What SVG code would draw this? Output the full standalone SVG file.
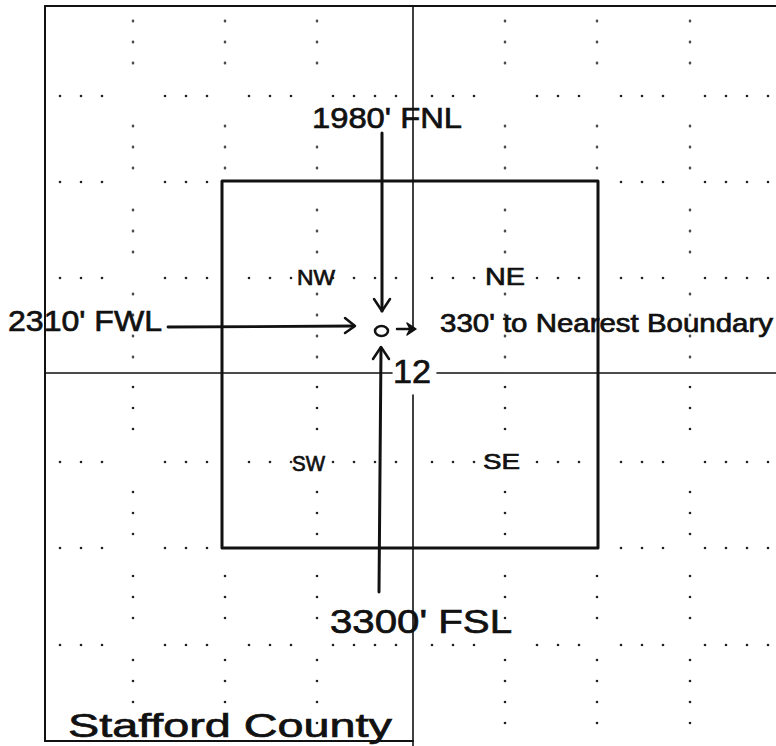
<svg xmlns="http://www.w3.org/2000/svg" width="776" height="746" viewBox="0 0 776 746">
<style>
.ln{stroke:#111;fill:none;stroke-linecap:round;stroke-linejoin:round}
.hw{font-family:"Liberation Sans","DejaVu Sans",sans-serif;fill:#111;stroke:#111;stroke-width:0.7}
</style>
<defs>
<pattern id="hL" patternUnits="userSpaceOnUse" width="21" height="6"><circle cx="18" cy="3" r="1.3" fill="#222"/></pattern>
<pattern id="hR" patternUnits="userSpaceOnUse" width="21" height="6"><circle cx="12" cy="3" r="1.3" fill="#222"/></pattern>
<pattern id="vT" patternUnits="userSpaceOnUse" x="0" y="-10.5" width="6" height="21"><circle cx="3" cy="10.5" r="1.3" fill="#222"/></pattern>
<pattern id="vB" patternUnits="userSpaceOnUse" width="6" height="21"><circle cx="3" cy="9" r="1.3" fill="#222"/></pattern>
</defs>
<rect width="776" height="746" fill="#fff"/>
<g id="dot-grid">
<g id="row-96" transform="translate(0,93)"><rect x="50" width="62" height="6" fill="url(#hL)"/><rect x="155" width="60" height="6" fill="url(#hL)"/><rect x="240" width="60" height="6" fill="url(#hL)"/><rect x="325" width="80" height="6" fill="url(#hL)"/><rect x="425" width="55" height="6" fill="url(#hR)"/><rect x="530" width="60" height="6" fill="url(#hR)"/><rect x="612" width="58" height="6" fill="url(#hR)"/><rect x="697" width="79" height="6" fill="url(#hR)"/></g>
<g id="row-182" transform="translate(0,179)"><rect x="50" width="62" height="6" fill="url(#hL)"/><rect x="155" width="60" height="6" fill="url(#hL)"/><rect x="612" width="58" height="6" fill="url(#hR)"/><rect x="697" width="79" height="6" fill="url(#hR)"/></g>
<g id="row-278" transform="translate(0,275)"><rect x="50" width="62" height="6" fill="url(#hL)"/><rect x="155" width="60" height="6" fill="url(#hL)"/><rect x="240" width="60" height="6" fill="url(#hL)"/><rect x="325" width="80" height="6" fill="url(#hL)"/><rect x="425" width="55" height="6" fill="url(#hR)"/><rect x="530" width="60" height="6" fill="url(#hR)"/><rect x="612" width="58" height="6" fill="url(#hR)"/><rect x="697" width="79" height="6" fill="url(#hR)"/></g>
<g id="row-462" transform="translate(0,459)"><rect x="50" width="62" height="6" fill="url(#hL)"/><rect x="155" width="60" height="6" fill="url(#hL)"/><rect x="240" width="60" height="6" fill="url(#hL)"/><rect x="325" width="80" height="6" fill="url(#hL)"/><rect x="425" width="55" height="6" fill="url(#hR)"/><rect x="530" width="60" height="6" fill="url(#hR)"/><rect x="612" width="58" height="6" fill="url(#hR)"/><rect x="697" width="79" height="6" fill="url(#hR)"/></g>
<g id="row-548" transform="translate(0,545)"><rect x="50" width="62" height="6" fill="url(#hL)"/><rect x="155" width="60" height="6" fill="url(#hL)"/><rect x="612" width="58" height="6" fill="url(#hR)"/><rect x="697" width="79" height="6" fill="url(#hR)"/></g>
<g id="row-645" transform="translate(0,642)"><rect x="50" width="62" height="6" fill="url(#hL)"/><rect x="155" width="60" height="6" fill="url(#hL)"/><rect x="240" width="60" height="6" fill="url(#hL)"/><rect x="325" width="80" height="6" fill="url(#hL)"/><rect x="425" width="55" height="6" fill="url(#hR)"/><rect x="530" width="60" height="6" fill="url(#hR)"/><rect x="612" width="58" height="6" fill="url(#hR)"/><rect x="697" width="79" height="6" fill="url(#hR)"/></g>
<g id="col-133" transform="translate(130,0)"><rect y="10" width="6" height="65" fill="url(#vT)"/><rect y="110" width="6" height="65" fill="url(#vT)"/><rect y="195" width="6" height="70" fill="url(#vT)"/><rect y="285" width="6" height="80" fill="url(#vT)"/><rect y="380" width="6" height="65" fill="url(#vB)"/><rect y="475" width="6" height="65" fill="url(#vB)"/><rect y="565" width="6" height="60" fill="url(#vB)"/><rect y="655" width="6" height="80" fill="url(#vB)"/></g>
<g id="col-225" transform="translate(222,0)"><rect y="10" width="6" height="65" fill="url(#vT)"/><rect y="110" width="6" height="65" fill="url(#vT)"/><rect y="565" width="6" height="60" fill="url(#vB)"/><rect y="655" width="6" height="80" fill="url(#vB)"/></g>
<g id="col-317" transform="translate(314,0)"><rect y="10" width="6" height="65" fill="url(#vT)"/><rect y="110" width="6" height="65" fill="url(#vT)"/><rect y="195" width="6" height="70" fill="url(#vT)"/><rect y="285" width="6" height="80" fill="url(#vT)"/><rect y="380" width="6" height="65" fill="url(#vB)"/><rect y="475" width="6" height="65" fill="url(#vB)"/><rect y="565" width="6" height="60" fill="url(#vB)"/><rect y="655" width="6" height="80" fill="url(#vB)"/></g>
<g id="col-505" transform="translate(502,0)"><rect y="10" width="6" height="65" fill="url(#vT)"/><rect y="110" width="6" height="65" fill="url(#vT)"/><rect y="195" width="6" height="70" fill="url(#vT)"/><rect y="285" width="6" height="80" fill="url(#vT)"/><rect y="380" width="6" height="65" fill="url(#vB)"/><rect y="475" width="6" height="65" fill="url(#vB)"/><rect y="565" width="6" height="60" fill="url(#vB)"/><rect y="655" width="6" height="80" fill="url(#vB)"/></g>
<g id="col-597" transform="translate(594,0)"><rect y="10" width="6" height="65" fill="url(#vT)"/><rect y="110" width="6" height="65" fill="url(#vT)"/><rect y="565" width="6" height="60" fill="url(#vB)"/><rect y="655" width="6" height="80" fill="url(#vB)"/></g>
<g id="col-690" transform="translate(687,0)"><rect y="10" width="6" height="65" fill="url(#vT)"/><rect y="110" width="6" height="65" fill="url(#vT)"/><rect y="195" width="6" height="70" fill="url(#vT)"/><rect y="285" width="6" height="80" fill="url(#vT)"/><rect y="380" width="6" height="65" fill="url(#vB)"/><rect y="475" width="6" height="65" fill="url(#vB)"/><rect y="565" width="6" height="60" fill="url(#vB)"/><rect y="655" width="6" height="80" fill="url(#vB)"/></g>
</g>
<g id="frame">
<line class="ln" x1="45" y1="6" x2="776" y2="6" stroke-width="2"/>
<line class="ln" x1="45" y1="6" x2="45" y2="741" stroke-width="2"/>
<line class="ln" x1="45" y1="741" x2="413" y2="741" stroke-width="2"/>
<line class="ln" x1="413" y1="6" x2="413" y2="327" stroke-width="1.6"/>
<line class="ln" x1="413" y1="395" x2="413" y2="746" stroke-width="1.6"/>
<line class="ln" x1="45" y1="373" x2="392" y2="373" stroke-width="1.6"/>
<line class="ln" x1="437" y1="373" x2="776" y2="373" stroke-width="1.6"/>
</g>
<g id="section-12">
<rect class="ln" x="222" y="181" width="376" height="367" stroke-width="3"/>
<text class="hw" x="393" y="383" font-size="34" textLength="38" lengthAdjust="spacingAndGlyphs">12</text>
</g>
<g id="well">
<ellipse class="ln" cx="381.5" cy="331" rx="6.5" ry="5" stroke-width="2.5"/>
</g>
<g id="label-nw"><text class="hw" x="297" y="285" font-size="22" textLength="38" lengthAdjust="spacingAndGlyphs">NW</text></g>
<g id="label-ne"><text class="hw" x="485" y="285" font-size="24" textLength="40" lengthAdjust="spacingAndGlyphs">NE</text></g>
<g id="label-sw"><text class="hw" x="292" y="471" font-size="22" textLength="33" lengthAdjust="spacingAndGlyphs">SW</text></g>
<g id="label-se"><text class="hw" x="483" y="469" font-size="22" textLength="37" lengthAdjust="spacingAndGlyphs">SE</text></g>
<g id="label-fnl"><text class="hw" x="312" y="128" font-size="30" textLength="150" lengthAdjust="spacingAndGlyphs">1980' FNL</text></g>
<g id="label-fwl"><text class="hw" x="8" y="331" font-size="30" textLength="154" lengthAdjust="spacingAndGlyphs">2310' FWL</text></g>
<g id="label-nearest"><text class="hw" x="440" y="332" font-size="25" textLength="333" lengthAdjust="spacingAndGlyphs">330' to Nearest Boundary</text></g>
<g id="label-fsl"><text class="hw" x="330" y="633" font-size="34" textLength="182" lengthAdjust="spacingAndGlyphs">3300' FSL</text></g>
<g id="label-county"><text class="hw" x="68" y="737" font-size="34" textLength="324" lengthAdjust="spacingAndGlyphs">Stafford County</text></g>
<g id="connectors">
<line class="ln" x1="382" y1="133" x2="382" y2="311" stroke-width="3"/>
<polyline class="ln" points="374,299 382,311 390,299" stroke-width="2.5"/>
<line class="ln" x1="168" y1="327" x2="354" y2="326" stroke-width="2.8"/>
<polyline class="ln" points="345,318 355,326 345,333" stroke-width="2.5"/>
<line class="ln" x1="397" y1="329" x2="414" y2="329" stroke-width="2.5"/>
<polygon points="407,323 416,329 407,335 410,329" fill="#111" stroke="#111" stroke-width="1.5" stroke-linejoin="round"/>
<line class="ln" x1="381" y1="348" x2="379" y2="592" stroke-width="3"/>
<polyline class="ln" points="373,359 381,347 389,359" stroke-width="2.5"/>
</g>
</svg>
